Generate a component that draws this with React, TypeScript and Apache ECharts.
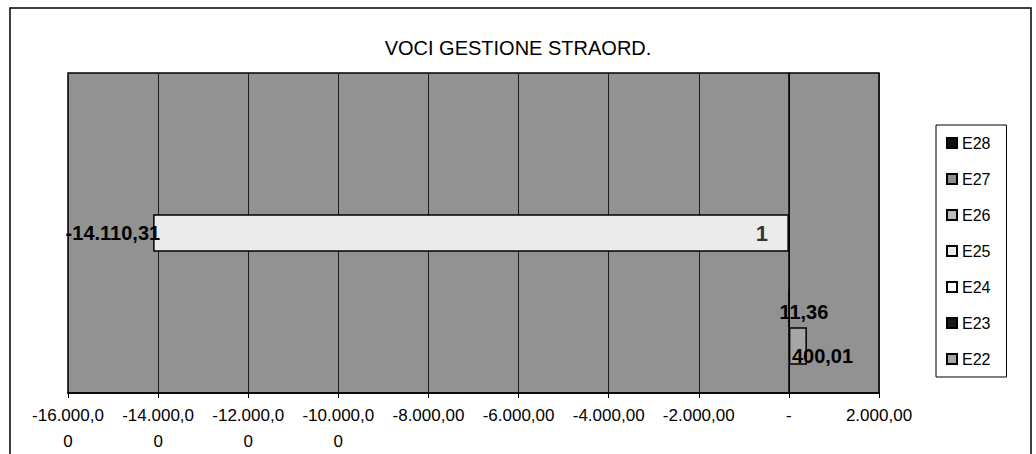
import React, { useEffect, useRef } from 'react';
import * as echarts from 'echarts';

const chartTitle = 'VOCI GESTIONE STRAORD.';
const categories = ['1'];
const legendOrder = ['E28', 'E27', 'E26', 'E25', 'E24', 'E23', 'E22'];
const E22 = [400.01];
const E23 = [11.36];
const E24 = [null];
const E25 = [-14110.31];
const E26 = [null];
const E27 = [null];
const E28 = [null];
const xTickLabels = [
  '-16.000,0\n0', '-14.000,0\n0', '-12.000,0\n0', '-10.000,0\n0',
  '-8.000,00', '-6.000,00', '-4.000,00', '-2.000,00', '-', '2.000,00',
];
const xMin = -16000;
const xMax = 2000;
const xStep = 2000;
const categoryAxisCrossing = 0;

const FONT = 'Liberation Sans, Arial, sans-serif';

function fmtIt(v: number): string {
  const neg = v < 0;
  const s = Math.abs(v).toFixed(2);
  const [ip, dp] = s.split('.');
  const withDots = ip.replace(/\B(?=(\d{3})+(?!\d))/g, '.');
  return (neg ? '-' : '') + withDots + ',' + dp;
}

export default function App() {
  const ref = useRef<HTMLDivElement>(null);
  useEffect(() => {
    if (!ref.current) return;
    const chart = echarts.init(ref.current, null, { renderer: 'svg' });
    const seriesDefs = [
      { name: 'E28', data: E28, color: '#111111', label: { show: false } },
      { name: 'E27', data: E27, color: '#8e8e8e', label: { show: false } },
      { name: 'E26', data: E26, color: '#bcbcbc', label: { show: false } },
      { name: 'E25', data: E25, color: '#ebebeb', label: { show: true, position: 'left', offset: [12, 0] } },
      { name: 'E24', data: E24, color: '#ffffff', label: { show: false } },
      { name: 'E23', data: E23, color: '#1a1a1a', label: { show: true, position: 'insideLeft', offset: [-14, 4] } },
      { name: 'E22', data: E22, color: '#a6a6a6', label: { show: true, position: 'insideLeft', offset: [-2, 10] } },
    ];
    const barSeries = seriesDefs.map((s) => ({
      type: 'bar',
      name: s.name,
      data: s.data,
      barGap: '0%',
      barCategoryGap: '17.6%',
      itemStyle: { color: s.color, borderColor: '#000', borderWidth: 1.5 },
      label: {
        ...s.label,
        color: '#000',
        fontFamily: FONT,
        fontSize: 20,
        fontWeight: 'bold',
        formatter: (p: any) => fmtIt(p.value),
      },
    }));
    const categoryLabelSeries = {
      type: 'scatter',
      name: 'category-label',
      silent: true,
      symbolSize: 2,
      itemStyle: { color: 'rgba(0,0,0,0)' },
      z: 5,
      data: categories.map((c) => [categoryAxisCrossing, c]),
      label: {
        show: true,
        position: 'left',
        distance: 20,
        color: '#000',
        fontFamily: FONT,
        fontSize: 22,
        fontWeight: 'bold',
        formatter: (p: any) => String(p.value[1]),
      },
    };
    const option: any = {
      animation: false,
      backgroundColor: '#ffffff',
      textStyle: { fontFamily: FONT },
      title: {
        text: chartTitle,
        left: 'center',
        top: 33,
        textStyle: { fontFamily: FONT, fontSize: 20, fontWeight: 'normal', color: '#000' },
      },
      graphic: [
        {
          type: 'rect',
          silent: true,
          shape: { x: 10, y: 8, width: 1021, height: 470 },
          style: { fill: 'none', stroke: '#000', lineWidth: 1.5 },
        },
      ],
      legend: {
        orient: 'vertical',
        left: 936,
        top: 125,
        data: legendOrder,
        icon: 'rect',
        itemWidth: 10,
        itemHeight: 10,
        itemGap: 20,
        padding: [10, 16, 10, 10],
        borderColor: '#000',
        borderWidth: 1,
        backgroundColor: '#fff',
        textStyle: { fontFamily: FONT, fontSize: 16, color: '#000' },
      },
      grid: {
        left: 68,
        right: 157,
        top: 73,
        bottom: 61,
        show: true,
        backgroundColor: '#929292',
        borderColor: '#000',
        borderWidth: 1.5,
      },
      xAxis: {
        type: 'value',
        min: xMin,
        max: xMax,
        interval: xStep,
        axisLine: { show: true, lineStyle: { color: '#000', width: 1.5 } },
        axisTick: { show: true, length: 5, lineStyle: { color: '#000' } },
        splitLine: { show: true, lineStyle: { color: '#1a1a1a', width: 1 } },
        axisLabel: {
          color: '#000',
          fontFamily: FONT,
          fontSize: 17,
          lineHeight: 26,
          margin: 9,
          formatter: (_v: number, i: number) => xTickLabels[i],
        },
      },
      yAxis: {
        type: 'category',
        data: categories,
        axisLine: { show: true, onZero: true, lineStyle: { color: '#000', width: 1.5 } },
        axisTick: { show: false },
        splitLine: { show: false },
        axisLabel: { show: false },
      },
      series: [...barSeries, categoryLabelSeries],
    };
    chart.setOption(option);
    return () => chart.dispose();
  }, []);
  return (
    <div
      ref={ref}
      style={{ position: 'fixed', left: 0, top: 0, width: 1036, height: 454 }}
    />
  );
}
